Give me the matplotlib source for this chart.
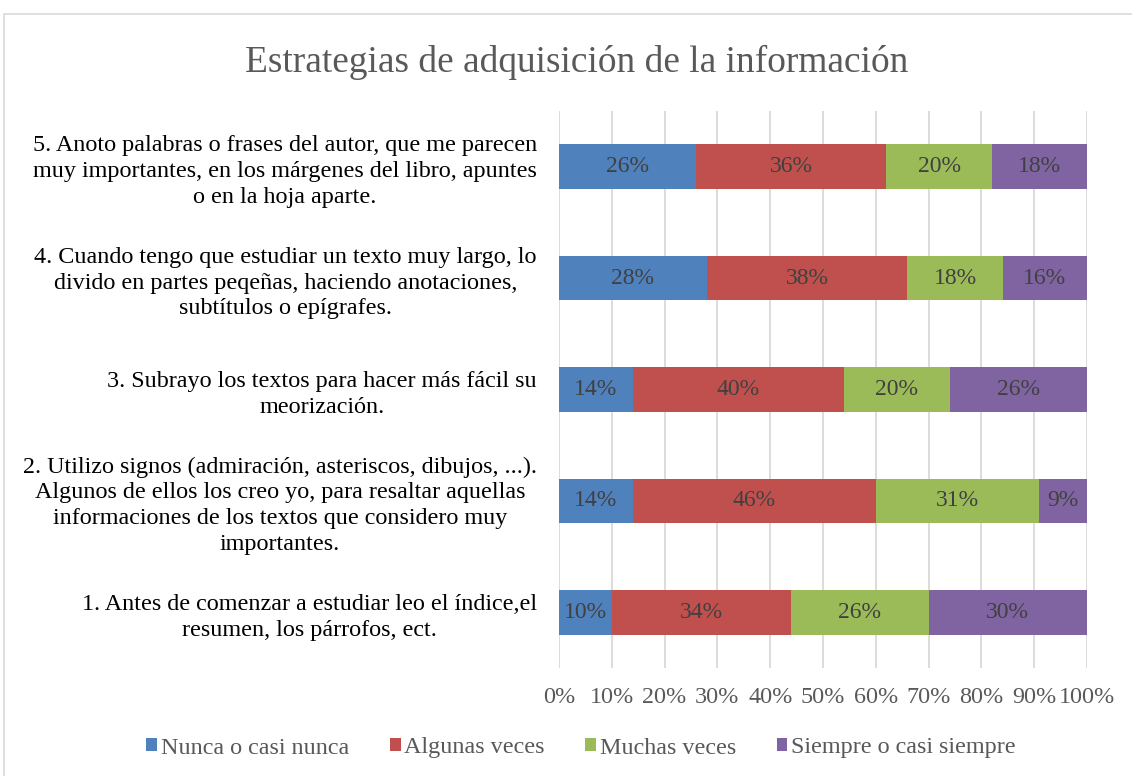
import matplotlib
matplotlib.use("Agg")
import matplotlib.pyplot as plt
from matplotlib.patches import Patch, Rectangle
from matplotlib.ticker import PercentFormatter

categories = [
    "1. Antes de comenzar a estudiar leo el índice,el\nresumen, los párrofos, ect.",
    "2. Utilizo signos (admiración, asteriscos, dibujos, ...).\nAlgunos de ellos los creo yo, para resaltar aquellas\ninformaciones de los textos que considero muy\nimportantes.",
    "3. Subrayo los textos para hacer más fácil su\nmeorización.",
    "4. Cuando tengo que estudiar un texto muy largo, lo\ndivido en partes peqeñas, haciendo anotaciones,\nsubtítulos o epígrafes.",
    "5. Anoto palabras o frases del autor, que me parecen\nmuy importantes, en los márgenes del libro, apuntes\no en la hoja aparte.",
]
series_names = ["Nunca o casi nunca", "Algunas veces", "Muchas veces", "Siempre o casi siempre"]
nunca = [10, 14, 14, 28, 26]
algunas = [34, 46, 40, 38, 36]
muchas = [26, 31, 20, 18, 20]
siempre = [30, 9, 26, 16, 18]
colors = ["#4F81BD", "#C0504D", "#9BBB59", "#8064A2"]
title = "Estrategias de adquisición de la información"

plt.rcParams['font.family'] = ['Liberation Serif', 'DejaVu Serif']

fig = plt.figure(figsize=(11.32, 7.76), dpi=100)
fig.patches.append(Rectangle((4/1132, -0.1), 1.2, 1 - 14/776 + 0.1, transform=fig.transFigure,
                             fill=False, edgecolor="#D9D9D9", linewidth=1.2))
ax = fig.add_axes([559/1132, 1 - 668/776, (1087 - 559)/1132, (668 - 111)/776])

series = [nunca, algunas, muchas, siempre]
y = list(range(len(categories)))
left = [0] * len(categories)
for name, vals, col in zip(series_names, series, colors):
    bars = ax.barh(y, vals, left=left, height=0.4, color=col, label=name, zorder=3)
    ax.bar_label(bars, labels=[f"{v}%" for v in vals], label_type="center",
                 fontsize=17, color="#404040")
    left = [l + v for l, v in zip(left, vals)]

ax.set_xlim(0, 100)
ax.set_ylim(-0.5, len(categories) - 0.5)
ax.set_xticks(range(0, 101, 10))
ax.xaxis.set_major_formatter(PercentFormatter(decimals=0))
ax.set_yticks(y)
ax.set_yticklabels(categories, fontsize=17.4, color="black", multialignment="center",
                   linespacing=1.3)
ax.tick_params(axis="x", labelsize=17.4, labelcolor="#595959", length=0, pad=14)
ax.tick_params(axis="y", length=0, pad=16)
ax.grid(axis="x", color="#D9D9D9", linewidth=1.3, zorder=0)
for s in ax.spines.values():
    s.set_visible(False)

fig.text(577/1132, 1 - 62/776, title, ha="center", va="center", fontsize=26.9, color="#595959")

handles = [Patch(facecolor=c, label=n) for c, n in zip(colors, series_names)]
fig.legend(handles=handles, loc="center", bbox_to_anchor=(581/1132, 1 - 748/776), ncol=4,
           frameon=False, fontsize=17.4, handlelength=0.45, handleheight=0.45,
           handletextpad=0.15, columnspacing=1.68, labelcolor="#595959")

fig.savefig("out.png", dpi=100)
